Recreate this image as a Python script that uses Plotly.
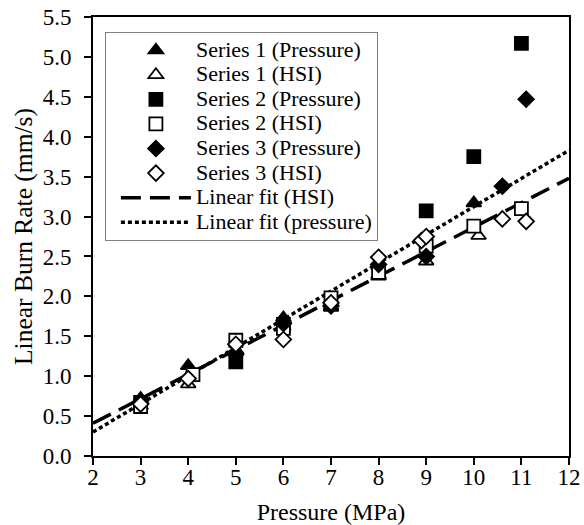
import plotly.graph_objects as go

# ---- data ----
s1p_x = [3, 4, 5, 6, 7, 8, 10]
s1p_y = [0.72, 1.13, 1.30, 1.73, 1.86, 2.27, 3.17]

s1h_x = [3, 4, 5, 6, 7, 8, 9, 10.1]
s1h_y = [0.63, 0.90, 1.33, 1.62, 1.88, 2.25, 2.44, 2.76]

s2p_x = [3, 5, 6, 9, 10, 11]
s2p_y = [0.67, 1.18, 1.65, 3.07, 3.75, 5.17]

s2h_x = [3, 4.1, 5, 6, 7, 8, 9, 10, 11]
s2h_y = [0.62, 1.02, 1.45, 1.60, 1.98, 2.30, 2.63, 2.88, 3.10]

s3p_x = [3, 5, 6, 7, 8, 9, 10.6, 11.1]
s3p_y = [0.66, 1.28, 1.66, 1.88, 2.40, 2.50, 3.38, 4.47]

s3h_x = [3, 4, 5, 6, 7, 8, 8.9, 9, 10.6, 11.1]
s3h_y = [0.65, 0.97, 1.40, 1.46, 1.92, 2.49, 2.70, 2.75, 2.97, 2.94]

fit_x = [2, 12]
fit_hsi_y = [0.41, 3.48]
fit_pressure_y = [0.30, 3.83]

x_ticks = [2, 3, 4, 5, 6, 7, 8, 9, 10, 11, 12]
y_ticks = [0.0, 0.5, 1.0, 1.5, 2.0, 2.5, 3.0, 3.5, 4.0, 4.5, 5.0, 5.5]
y_tick_text = [f"{v:.1f}" for v in y_ticks]

FONT = "Liberation Serif"
BASE_FONT = dict(family=FONT, size=23, color="black")


def leg(name):
    # larger visible legend text while rows stay compact
    return f'<span style="font-size:22px">{name}</span>'


fig = go.Figure()

# fit lines (drawn first, listed last in legend)
fig.add_trace(go.Scatter(x=fit_x, y=fit_hsi_y, mode="lines", name=leg("Linear fit (HSI)"),
                         line=dict(color="black", width=3.5, dash="20px,9px"), legendrank=7))
fig.add_trace(go.Scatter(x=fit_x, y=fit_pressure_y, mode="lines", name=leg("Linear fit (pressure)"),
                         line=dict(color="black", width=3.5, dash="4px,3px"), legendrank=8))


def mk(symbol, filled, size):
    return dict(symbol=symbol, size=size,
                color="black" if filled else "white",
                line=dict(color="black", width=1.8))


fig.add_trace(go.Scatter(x=s1p_x, y=s1p_y, mode="markers", name=leg("Series 1 (Pressure)"),
                         marker=mk("triangle-up", True, 13), legendrank=1))
fig.add_trace(go.Scatter(x=s1h_x, y=s1h_y, mode="markers", name=leg("Series 1 (HSI)"),
                         marker=mk("triangle-up", False, 13), legendrank=2))
fig.add_trace(go.Scatter(x=s2p_x, y=s2p_y, mode="markers", name=leg("Series 2 (Pressure)"),
                         marker=mk("square", True, 13), legendrank=3))
fig.add_trace(go.Scatter(x=s2h_x, y=s2h_y, mode="markers", name=leg("Series 2 (HSI)"),
                         marker=mk("square", False, 13), legendrank=4))
fig.add_trace(go.Scatter(x=s3p_x, y=s3p_y, mode="markers", name=leg("Series 3 (Pressure)"),
                         marker=mk("diamond", True, 12), legendrank=5))
fig.add_trace(go.Scatter(x=s3h_x, y=s3h_y, mode="markers", name=leg("Series 3 (HSI)"),
                         marker=mk("diamond", False, 12), legendrank=6))

tick_common = dict(showgrid=False, zeroline=False, tickcolor="black", tickwidth=2,
                   ticklen=7, automargin=False, tickfont=BASE_FONT)

fig.update_layout(
    template="none",
    width=584, height=525,
    margin=dict(l=93, r=15, t=17, b=69),
    paper_bgcolor="white", plot_bgcolor="white",
    font=BASE_FONT,
    showlegend=True,
    legend=dict(x=0.025, y=0.966, xanchor="left", yanchor="top",
                bgcolor="white", bordercolor="#808080", borderwidth=1,
                font=dict(family=FONT, size=16.6, color="black"),
                itemwidth=70, indentation=10, tracegroupgap=0),
    xaxis=dict(range=[2, 12], tickvals=x_ticks, ticks="outside", showline=True, mirror=True,
               linecolor="black", linewidth=2, ticklabelstandoff=-8,
               title=dict(text="Pressure (MPa)", standoff=15,
                          font=dict(family=FONT, size=24, color="black")), **tick_common),
    yaxis=dict(range=[0, 5.5], tickvals=y_ticks, ticktext=y_tick_text, ticks="outside",
               showline=True, mirror=True, linecolor="black", linewidth=2, ticklabelstandoff=8,
               title=dict(text="Linear Burn Rate (mm/s)", standoff=3,
                          font=dict(family=FONT, size=25.5, color="black")), **tick_common),
    xaxis2=dict(range=[2, 12], tickvals=x_ticks, ticks="inside", overlaying="x", anchor="y",
                side="bottom", showticklabels=False, showline=False, **tick_common),
    yaxis2=dict(range=[0, 5.5], tickvals=y_ticks, ticks="inside", overlaying="y", anchor="x",
                side="left", showticklabels=False, showline=False, **tick_common),
)

fig.write_html("out.html")
